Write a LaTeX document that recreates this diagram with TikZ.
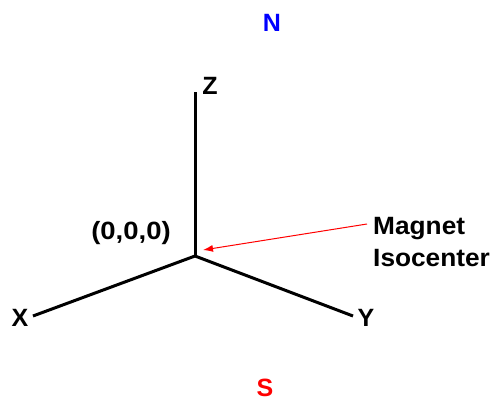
\documentclass[tikz,border=0pt]{standalone}
\usepackage{fontspec}
\setmainfont{Liberation Sans}
\usetikzlibrary{arrows.meta,positioning}

\begin{document}
\begin{tikzpicture}[x=1pt, y=-1pt,
    axis/.style={line width=3pt},
    lbl/.style={font=\fontsize{25}{32}\selectfont\bfseries, inner sep=0pt}]
    \useasboundingbox (0,0) rectangle (495,404);

    % axes from the isocenter
    \coordinate (O) at (195,256);
    \coordinate (Zend) at (195,92);
    \coordinate (Xend) at (33,316);
    \coordinate (Yend) at (353,316);
    \draw[axis] (Zend) -- (O);
    \draw[axis] (O) -- (Xend);
    \draw[axis] (O) -- (Yend);

    \node[lbl] (zlab) at (210,86) {Z};
    \node[lbl] (xlab) at (20,318) {X};
    \node[lbl] (ylab) at (366,318) {Y};
    \node[lbl, xscale=1.1] (orig) at (131,233) {(0,0,0)};

    \node[lbl, blue] (north) at (272,23) {N};
    \node[lbl, red] (south) at (265,388) {S};

    \node[lbl, anchor=west, align=left, xscale=1.05] (iso) at (373,242) {Magnet\\Isocenter};
    \coordinate (tail) at (367,224);
    \coordinate (tip) at (203,250);
    \draw[red, line width=1pt, -{Latex[length=10pt, width=7pt]}] (tail) -- (tip);
\end{tikzpicture}
\end{document}
